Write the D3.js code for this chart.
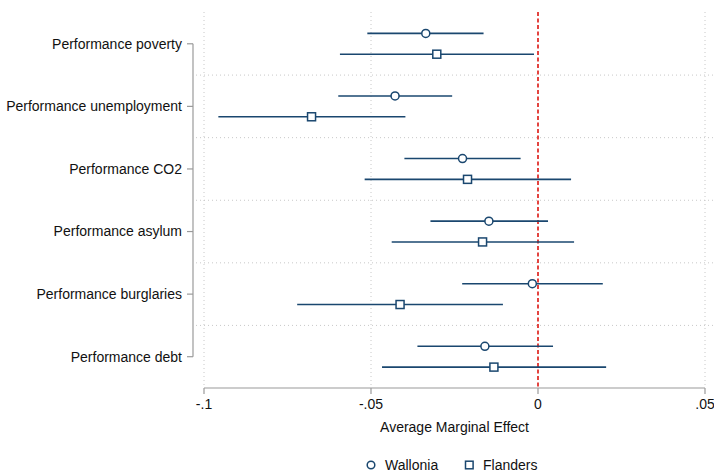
<!DOCTYPE html>
<html lang="en">
<head>
  <meta charset="UTF-8" />
  <title>Average Marginal Effect</title>
  <style>
    body { margin: 0; background: white; overflow: hidden; }
    svg { display: block; }
    text { font-family: "Liberation Sans", Arial, sans-serif; fill: #111; }
  </style>
</head>
<body>
<svg id="chart" width="714" height="473"></svg>
<script src="https://d3js.org/d3.v7.min.js"></script>
<script>
// data
const categories = [
  "Performance poverty",
  "Performance unemployment",
  "Performance CO2",
  "Performance asylum",
  "Performance burglaries",
  "Performance debt"
];
const walloniaEst = [-0.0336, -0.0428, -0.0226, -0.0147, -0.0017, -0.0159];
const walloniaLo  = [-0.0511, -0.0598, -0.0400, -0.0322, -0.0227, -0.0361];
const walloniaHi  = [-0.0163, -0.0257, -0.0052,  0.0030,  0.0194,  0.0045];
const flandersEst = [-0.0303, -0.0678, -0.0211, -0.0166, -0.0413, -0.0132];
const flandersLo  = [-0.0593, -0.0957, -0.0519, -0.0438, -0.0721, -0.0467];
const flandersHi  = [-0.0012, -0.0397,  0.0099,  0.0108, -0.0105,  0.0204];
const xTicks = [-0.1, -0.05, 0, 0.05];
const xTickLabels = ["-.1", "-.05", "0", ".05"];
const seriesNames = ["Wallonia", "Flanders"];

const navy = "#1a476f";
const grid = "#c8c8c8";
const axisGray = "#9a9a9a";
const fs = 14;

const svg = d3.select("#chart");

const x = d3.scaleLinear().domain([-0.1, 0.05]).range([204, 705]);
const y = d3.scaleBand().domain(categories).range([12.5, 388]);
const off = 10.4;

// horizontal separators between categories
svg.append("g")
  .selectAll("line")
  .data(categories.slice(1))
  .join("line")
  .attr("x1", 196).attr("x2", 714)
  .attr("y1", d => y(d)).attr("y2", d => y(d))
  .attr("stroke", grid).attr("stroke-width", 1)
  .attr("stroke-dasharray", "1,3");

// vertical gridlines
svg.append("g")
  .selectAll("line")
  .data(xTicks.filter(v => v !== 0))
  .join("line")
  .attr("x1", d => x(d)).attr("x2", d => x(d))
  .attr("y1", 12).attr("y2", 388)
  .attr("stroke", grid).attr("stroke-width", 1)
  .attr("stroke-dasharray", "1,3");

// x axis
const xAxis = svg.append("g").attr("transform", "translate(0,388)");
xAxis.append("line")
  .attr("x1", x(-0.1)).attr("x2", x(0.05))
  .attr("stroke", axisGray).attr("stroke-width", 1.2);
xAxis.selectAll("line.tick")
  .data(xTicks)
  .join("line")
  .attr("class", "tick")
  .attr("x1", d => x(d)).attr("x2", d => x(d))
  .attr("y1", 0).attr("y2", 6)
  .attr("stroke", axisGray).attr("stroke-width", 1.2);
xAxis.selectAll("text")
  .data(xTicks)
  .join("text")
  .attr("x", d => x(d)).attr("y", 21)
  .attr("text-anchor", "middle")
  .attr("font-size", fs)
  .text((d, i) => xTickLabels[i]);

svg.append("text")
  .attr("x", (x(-0.1) + x(0.05)) / 2).attr("y", 432)
  .attr("text-anchor", "middle")
  .attr("font-size", fs)
  .text("Average Marginal Effect");

// y axis
const yc = d => y(d) + y.bandwidth() / 2;
const yAxis = svg.append("g");
yAxis.append("line")
  .attr("x1", 193).attr("x2", 193)
  .attr("y1", yc(categories[0])).attr("y2", yc(categories[categories.length - 1]))
  .attr("stroke", axisGray).attr("stroke-width", 1.2);
yAxis.selectAll("line.tick")
  .data(categories)
  .join("line")
  .attr("class", "tick")
  .attr("x1", 187).attr("x2", 193)
  .attr("y1", yc).attr("y2", yc)
  .attr("stroke", axisGray).attr("stroke-width", 1.2);
yAxis.selectAll("text")
  .data(categories)
  .join("text")
  .attr("x", 182).attr("y", yc)
  .attr("dy", "0.35em")
  .attr("text-anchor", "end")
  .attr("font-size", fs)
  .text(d => d);

// reference line at zero
svg.append("line")
  .attr("x1", x(0)).attr("x2", x(0))
  .attr("y1", 12).attr("y2", 388)
  .attr("stroke", "#e0302c").attr("stroke-width", 1.8)
  .attr("stroke-dasharray", "4,2.5");

// series
const rows = categories.map((c, i) => ({
  c,
  w: { est: walloniaEst[i], lo: walloniaLo[i], hi: walloniaHi[i] },
  f: { est: flandersEst[i], lo: flandersLo[i], hi: flandersHi[i] }
}));

const marks = svg.append("g");
// confidence intervals
marks.selectAll("line.ciw")
  .data(rows).join("line").attr("class", "ciw")
  .attr("x1", d => x(d.w.lo)).attr("x2", d => x(d.w.hi))
  .attr("y1", d => yc(d.c) - off).attr("y2", d => yc(d.c) - off)
  .attr("stroke", navy).attr("stroke-width", 1.6);
marks.selectAll("line.cif")
  .data(rows).join("line").attr("class", "cif")
  .attr("x1", d => x(d.f.lo)).attr("x2", d => x(d.f.hi))
  .attr("y1", d => yc(d.c) + off).attr("y2", d => yc(d.c) + off)
  .attr("stroke", navy).attr("stroke-width", 1.6);
// point estimates
marks.selectAll("circle")
  .data(rows).join("circle")
  .attr("cx", d => x(d.w.est)).attr("cy", d => yc(d.c) - off)
  .attr("r", 4)
  .attr("fill", "white").attr("stroke", navy).attr("stroke-width", 1.5);
marks.selectAll("rect")
  .data(rows).join("rect")
  .attr("x", d => x(d.f.est) - 4).attr("y", d => yc(d.c) + off - 4)
  .attr("width", 8).attr("height", 8)
  .attr("fill", "white").attr("stroke", navy).attr("stroke-width", 1.5);

// legend
const legend = svg.append("g").attr("transform", "translate(0,465)");
legend.append("circle")
  .attr("cx", 371).attr("cy", 0).attr("r", 3.8)
  .attr("fill", "white").attr("stroke", navy).attr("stroke-width", 1.5);
legend.append("text")
  .attr("x", 385).attr("y", 0).attr("dy", "0.35em")
  .attr("font-size", fs).text(seriesNames[0]);
legend.append("rect")
  .attr("x", 465.5).attr("y", -3.8).attr("width", 7.6).attr("height", 7.6)
  .attr("fill", "white").attr("stroke", navy).attr("stroke-width", 1.5);
legend.append("text")
  .attr("x", 483).attr("y", 0).attr("dy", "0.35em")
  .attr("font-size", fs).text(seriesNames[1]);
</script>
</body>
</html>
